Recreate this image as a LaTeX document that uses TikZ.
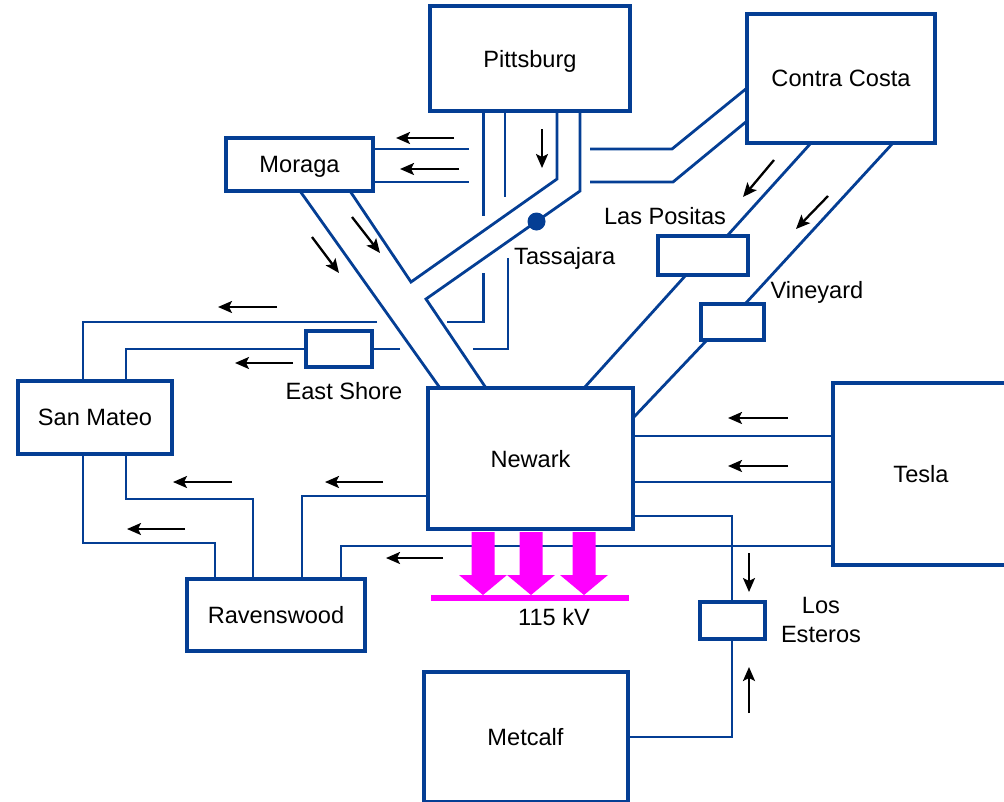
\documentclass[tikz,border=0pt]{standalone}
\usepackage{fontspec}
\setmainfont{Liberation Sans}
\usetikzlibrary{arrows.meta}
\tikzset{>={Stealth[length=14pt,width=12pt,inset=3pt]}}
\definecolor{grid}{RGB}{4,62,148}
\definecolor{bus}{RGB}{255,0,255}
\tikzset{
  stn/.style={draw=grid, line width=4pt, fill=white, inner sep=0pt, outer sep=0pt,
    text depth=0pt, font=\fontsize{23.6}{29}\selectfont},
  wire/.style={draw=grid, line width=2.8pt},
  flow/.style={->, line width=2.3pt, black},
  lbl/.style={inner sep=0pt, font=\fontsize{23.6}{29}\selectfont},
}
\begin{document}
\begin{tikzpicture}[x=1pt, y=-1pt]
        \useasboundingbox (0,0) rectangle (1004,801);
        \clip (0,0) rectangle (1004,801);
        % node
        \node[stn, minimum width=200pt, minimum height=105pt] (pitt) at (530,58.5) {Pittsburg};
        \node[stn, minimum width=188pt, minimum height=129pt] (contra) at (841,78.5) {Contra Costa};
        \node[stn, minimum width=147pt, minimum height=53pt] (moraga) at (299.5,164.5) {Moraga};
        \node[stn, minimum width=154pt, minimum height=73pt] (sanmateo) at (95,417.5) {San Mateo};
        \node[stn, minimum width=178pt, minimum height=72pt] (ravens) at (276,615) {Ravenswood};
        \node[stn, minimum width=205pt, minimum height=141pt] (newark) at (530.5,458.5) {Newark};
        \node[stn, minimum width=176pt, minimum height=182pt] (tesla) at (921,474) {Tesla};
        \node[stn, minimum width=204pt, minimum height=130pt] (metcalf) at (525.5,737) {Metcalf};
        \node[stn, minimum width=66pt, minimum height=36pt] (eastshore) at (339,349) {};
        \node[stn, minimum width=90pt, minimum height=39pt] (laspos) at (703,255.5) {};
        \node[stn, minimum width=63pt, minimum height=36pt] (vineyard) at (732.5,322) {};
        \node[stn, minimum width=65pt, minimum height=37pt] (losest) at (732,620.5) {};
        % lines
        \draw[wire] (moraga.east |- 0,149) -- (469,149);
        \draw[wire] (590,149) -- (672,149) -- (contra.west |- 0,88);
        \draw[wire] (moraga.east |- 0,182) -- (469,182);
        \draw[wire] (590,182) -- (673,182) -- (contra.west |- 0,121);
        \draw[wire] (pitt.south -| 483.5,0) -- (483.5,216);
        \draw[wire] (483.5,273) -- (483.5,322) -- (447,322);
        \draw[wire] (377,322) -- (83,322) -- (sanmateo.north -| 83,0);
        \draw[wire] (pitt.south -| 505,0) -- (505,197);
        \draw[wire] (508,258) -- (508,349) -- (473,349);
        \draw[wire] (400,349) -- (eastshore.east);
        \draw[wire] (eastshore.west) -- (126,349) -- (sanmateo.north -| 126,0);
        \draw[wire] (pitt.south -| 557,0) -- (557,179) -- (411,282) -- (moraga.south -| 350,0);
        \draw[wire] (pitt.south -| 580,0) -- (580,191) -- (426,299) -- (newark.north -| 486,0);
        \draw[wire] (moraga.south -| 300,0) -- (newark.north -| 440,0);
        \draw[wire] (contra.south -| 811,0) -- (laspos.north -| 727,0);
        \draw[wire] (laspos.south -| 686,0) -- (newark.north -| 584,0);
        \draw[wire] (contra.south -| 893,0) -- (vineyard.north -| 745,0);
        \draw[wire] (vineyard.south -| 707,0) -- (newark.east |- 0,418);
        \draw[wire] (sanmateo.south -| 83,0) -- (83,543) -- (215,543) -- (ravens.north -| 215,0);
        \draw[wire] (sanmateo.south -| 126,0) -- (126,499) -- (253,499) -- (ravens.north -| 253,0);
        \draw[wire] (ravens.north -| 302,0) -- (302,496) -- (newark.west |- 0,496);
        \draw[wire] (ravens.north -| 341,0) -- (341,546) -- (tesla.west |- 0,546);
        \draw[wire] (tesla.west |- 0,436) -- (newark.east |- 0,436);
        \draw[wire] (tesla.west |- 0,482) -- (newark.east |- 0,482);
        \draw[wire] (newark.east |- 0,516) -- (732,516) -- (losest.north);
        \draw[wire] (metcalf.east |- 0,737) -- (732,737) -- (losest.south);
        \node[circle, fill=grid, inner sep=0pt, minimum size=18pt] (tass) at (536.5,221.5) {};
        % flows
        \draw[flow] (454,138) -- (396,138);
        \draw[flow] (459,169) -- (400,169);
        \draw[flow] (542,129) -- (542,168);
        \draw[flow] (312,237) -- (339,273);
        \draw[flow] (352,217) -- (380,253);
        \draw[flow] (774,160) -- (743,197);
        \draw[flow] (828,196) -- (796,229);
        \draw[flow] (277,307) -- (218,307);
        \draw[flow] (293,363) -- (235,363);
        \draw[flow] (232,482) -- (173,482);
        \draw[flow] (185,529) -- (127,529);
        \draw[flow] (383,482) -- (325,482);
        \draw[flow] (443,558) -- (386,558);
        \draw[flow] (788,418) -- (728,418);
        \draw[flow] (788,466) -- (728,466);
        \draw[flow] (749,553) -- (749,592);
        \draw[flow] (749,713) -- (749,667);
        % 115 kV bus
        \node[fill=bus, inner sep=0pt, minimum width=198pt, minimum height=6pt] (kv) at (530,598) {};
        \foreach \c in {483,531,584}
          \fill[bus] (\c-11.5,532) -- (\c+11.5,532) -- (\c+11.5,575) -- (\c+24,575)
            -- (\c,595) -- (\c-24,575) -- (\c-11.5,575) -- cycle;
        % labels
        \node[lbl, anchor=west] (tassl) at (514,258) {Tassajara};
        \node[lbl] (lasposl) at (665,216) {Las Positas};
        \node[lbl] (vineyardl) at (817,292) {Vineyard};
        \node[lbl] (eastshorel) at (344,391) {East Shore};
        \node[lbl, align=center] (losestl) at (821,620) {Los\\Esteros};
        \node[lbl] (kvl) at (554,617) {115 kV};
      \end{tikzpicture}
\end{document}
